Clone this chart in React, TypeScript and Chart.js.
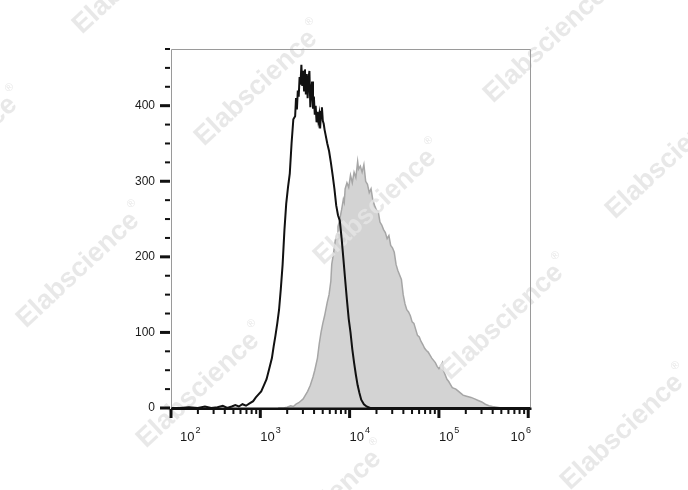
import React, { useEffect, useRef } from "react";
import { Chart, registerables } from "chart.js";
Chart.register(...registerables);

// x positions are log10(fluorescence intensity)
const CONTROL_LOG = [2.00,2.10,2.20,2.30,2.38,2.45,2.52,2.58,2.63,2.68,2.72,2.76,2.80,2.84,2.88,2.92,2.95,2.98,3.01,3.04,3.07,3.10,3.13,3.15,3.17,3.19,3.21,3.23,3.25,3.27,3.29,3.31,3.33,3.35,3.37,3.39,3.40,3.41,3.42,3.43,3.44,3.45,3.46,3.47,3.48,3.49,3.50,3.51,3.52,3.53,3.54,3.55,3.56,3.57,3.58,3.59,3.60,3.61,3.62,3.63,3.64,3.65,3.66,3.67,3.68,3.69,3.70,3.71,3.72,3.73,3.75,3.77,3.79,3.81,3.83,3.85,3.87,3.89,3.91,3.93,3.95,3.97,3.99,4.01,4.03,4.05,4.07,4.09,4.11,4.13,4.16,4.19,4.23,4.5,5.0,5.5,6.02];
const CONTROL_COUNT = [0,0,1,0,2,0,1,3,0,2,4,2,5,3,6,9,14,18,22,30,38,52,66,82,96,112,130,158,190,235,270,292,310,350,382,386,410,395,420,412,438,428,454,426,446,420,448,415,442,410,436,446,398,420,432,396,412,388,400,378,392,380,388,370,392,398,380,376,368,362,350,340,325,308,290,268,255,248,225,198,170,143,118,100,78,60,44,30,20,11,5,2,0,0,0,0,0];

const STAINED_LOG = [3.20,3.26,3.30,3.34,3.37,3.40,3.43,3.45,3.48,3.50,3.53,3.56,3.59,3.61,3.64,3.66,3.68,3.70,3.72,3.75,3.77,3.79,3.80,3.82,3.84,3.86,3.87,3.89,3.91,3.93,3.94,3.95,3.97,3.99,4.01,4.03,4.05,4.07,4.09,4.10,4.12,4.14,4.16,4.18,4.20,4.22,4.24,4.26,4.28,4.30,4.32,4.34,4.36,4.38,4.40,4.42,4.44,4.46,4.48,4.50,4.52,4.54,4.56,4.58,4.60,4.62,4.64,4.66,4.68,4.70,4.72,4.74,4.76,4.78,4.80,4.82,4.84,4.86,4.88,4.90,4.92,4.94,4.96,4.98,5.00,5.02,5.04,5.05,5.07,5.09,5.11,5.13,5.15,5.17,5.19,5.21,5.24,5.27,5.30,5.33,5.36,5.40,5.44,5.48,5.52,5.56,5.60,5.65,5.70,6.02];
const STAINED_COUNT = [0,0,1,3,2,5,7,9,12,16,22,30,41,50,66,85,100,112,122,140,150,168,190,205,222,230,240,250,262,276,272,290,298,292,308,298,312,305,326,316,320,312,322,300,296,285,290,275,268,262,260,246,242,236,232,224,228,215,212,206,190,182,176,170,150,138,130,127,122,114,112,104,96,94,88,84,79,76,74,70,66,63,60,55,52,56,60,50,44,38,35,31,27,26,25,23,20,17,16,15,14,12,10,8,5,3,2,1,0,0];

const Y_TICKS = [0, 100, 200, 300, 400];
const Y_MINOR_STEP = 25;
const X_DECADES = [2, 3, 4, 5, 6];
const X_BASE = "10";
const X_EXPONENTS = ["2", "3", "4", "5", "6"];
const WATERMARK = "Elabscience";
const WATERMARK_SPOTS: [number, number][] = [
  [134, -24], [-44, 154], [256, 88], [545, 45], [375, 207], [667, 161],
  [78, 270], [502, 322], [198, 390], [622, 432], [320, 508],
];

const FONT = "'Liberation Sans', Arial, Helvetica, sans-serif";

const decorPlugin = {
  id: "decor",
  afterDatasetDraw(chart: any, args: any) {
    if (args.index !== 1) return;
    const ctx = chart.ctx;
    ctx.save();
    ctx.fillStyle = "rgba(228,228,228,0.85)";
    for (const [cx, cy] of WATERMARK_SPOTS) {
      ctx.save();
      ctx.translate(cx, cy);
      ctx.rotate(-0.75);
      ctx.font = `bold 27px ${FONT}`;
      ctx.textAlign = "center";
      ctx.textBaseline = "middle";
      const w = ctx.measureText(WATERMARK).width;
      ctx.fillText(WATERMARK, 0, 0);
      ctx.font = `11px ${FONT}`;
      ctx.textAlign = "left";
      ctx.fillText("®", w / 2 + 2, -12);
      ctx.restore();
    }
    ctx.restore();
  },
  afterDraw(chart: any) {
    const { ctx, chartArea, scales } = chart;
    const { left, right, top, bottom } = chartArea;
    const xs = scales.x;
    const ys = scales.y;
    ctx.save();
    // frame
    ctx.strokeStyle = "#9a9a9a";
    ctx.lineWidth = 1;
    ctx.beginPath();
    ctx.moveTo(left + 0.5, bottom);
    ctx.lineTo(left + 0.5, top + 0.5);
    ctx.lineTo(right + 0.5, top + 0.5);
    ctx.lineTo(right + 0.5, bottom);
    ctx.stroke();
    // bottom axis line
    ctx.fillStyle = "#111";
    ctx.fillRect(left, bottom - 0.5, right - left + 1.5, 2.5);
    // y ticks
    const yMax = ys.max;
    for (let v = 0; v <= yMax + 0.01; v += Y_MINOR_STEP) {
      const py = ys.getPixelForValue(v);
      if (v % 100 === 0) ctx.fillRect(left - 11, py - 1.5, 10, 3);
      else ctx.fillRect(left - 6, py - 1, 5, 2);
    }
    // x ticks
    for (const d of X_DECADES) {
      for (let k = 1; k <= 9; k++) {
        const e = d + Math.log10(k);
        if (e > xs.max + 0.001) break;
        const px = xs.getPixelForValue(e);
        if (k === 1) ctx.fillRect(px - 1.5, bottom + 1, 3, 9);
        else ctx.fillRect(px - 1, bottom + 1, 2, 5);
      }
    }
    // x labels
    ctx.fillStyle = "#1a1a1a";
    ctx.textBaseline = "alphabetic";
    ctx.textAlign = "left";
    X_DECADES.forEach((d, i) => {
      const px = xs.getPixelForValue(d);
      ctx.font = `13px ${FONT}`;
      const wb = ctx.measureText(X_BASE).width;
      ctx.font = `9px ${FONT}`;
      const we = ctx.measureText(X_EXPONENTS[i]).width;
      const total = wb + we + 1;
      let lx = Math.max(px, left + 9);
      lx = Math.min(lx, right - total + 1);
      ctx.font = `13px ${FONT}`;
      ctx.fillText(X_BASE, lx, 441);
      ctx.font = `9px ${FONT}`;
      ctx.fillText(X_EXPONENTS[i], lx + wb + 1, 433);
    });
    ctx.restore();
  },
};

export default function App() {
  const ref = useRef<HTMLCanvasElement | null>(null);
  useEffect(() => {
    if (!ref.current) return;
    const control = CONTROL_LOG.map((x, i) => ({ x, y: CONTROL_COUNT[i] }));
    const stained = STAINED_LOG.map((x, i) => ({ x, y: STAINED_COUNT[i] }));
    const chart = new Chart(ref.current, {
      type: "line",
      data: {
        datasets: [
          {
            label: "Control",
            data: control,
            borderColor: "#111111",
            borderWidth: 2,
            fill: false,
            pointRadius: 0,
            tension: 0,
          },
          {
            label: "Stained",
            data: stained,
            borderColor: "#a6a6a6",
            backgroundColor: "#d3d3d3",
            borderWidth: 1.5,
            fill: "origin",
            pointRadius: 0,
            tension: 0,
          },
        ],
      },
      options: {
        animation: false,
        responsive: false,
        devicePixelRatio: 1,
        layout: { padding: { top: 49, right: 158, left: 0, bottom: 0 } },
        plugins: { legend: { display: false }, tooltip: { enabled: false } },
        scales: {
          x: {
            type: "linear",
            min: 2,
            max: 6.02,
            grid: { display: false, drawTicks: false },
            border: { display: false },
            ticks: { display: false },
            afterFit: (s: any) => {
              s.height = 82;
            },
          },
          y: {
            type: "linear",
            min: 0,
            max: 475,
            grid: { display: false, drawTicks: false },
            border: { display: false },
            afterBuildTicks: (s: any) => {
              s.ticks = Y_TICKS.map((v) => ({ value: v }));
            },
            ticks: {
              color: "#1a1a1a",
              font: { family: FONT, size: 12 },
              padding: 16,
            },
            afterFit: (s: any) => {
              s.width = 171;
            },
          },
        },
      },
      plugins: [decorPlugin],
    });
    return () => chart.destroy();
  }, []);
  return (
    <div style={{ position: "fixed", left: 0, top: 0, width: 688, height: 490, background: "#fff" }}>
      <canvas ref={ref} width={688} height={490} style={{ width: 688, height: 490, display: "block" }} />
    </div>
  );
}
